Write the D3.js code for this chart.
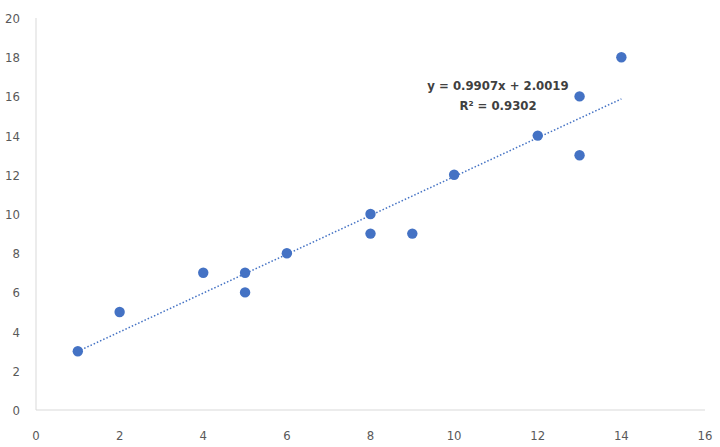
<!DOCTYPE html>
<html><head><meta charset="utf-8">
<script src="https://cdn.jsdelivr.net/npm/d3@7"></script>
<style>body{margin:0;background:#fff}svg{display:block}text{font-family:"Liberation Sans Narrow","DejaVu Sans Condensed",sans-serif}</style>
</head><body><svg id="c" width="720" height="447"></svg>
<script>
const xs = [1,2,4,5,5,6,8,8,9,10,12,13,13,14];
const ys = [3,5,7,7,6,8,10,9,9,12,14,16,13,18];
const xTicks = [0,2,4,6,8,10,12,14,16];
const yTicks = [0,2,4,6,8,10,12,14,16,18,20];
const slope = 0.9907, intercept = 2.0019;
const eqLabel = "y = 0.9907x + 2.0019";
const r2Label = "R² = 0.9302";

const svg = d3.select("#c");
const x = d3.scaleLinear().domain([0,16]).range([36,705]);
const y = d3.scaleLinear().domain([0,20]).range([410,18]);

svg.append("line").attr("x1",x(0)).attr("x2",x(0)).attr("y1",y(20)).attr("y2",y(0)).attr("stroke","#d9d9d9");
svg.append("line").attr("x1",x(0)).attr("x2",x(16)).attr("y1",y(0)).attr("y2",y(0)).attr("stroke","#d9d9d9");
svg.selectAll(".xt").data(xTicks).join("text").attr("x",d=>x(d)).attr("y",440)
  .attr("text-anchor","middle").attr("font-size",13).attr("fill","#595959").text(d=>d);
svg.selectAll(".yt").data(yTicks).join("text").attr("x",20).attr("y",d=>y(d)+5)
  .attr("text-anchor","end").attr("font-size",13).attr("fill","#595959").text(d=>d);

const x0 = d3.min(xs), x1 = d3.max(xs);
svg.append("line").attr("x1",x(x0)).attr("y1",y(slope*x0+intercept))
  .attr("x2",x(x1)).attr("y2",y(slope*x1+intercept))
  .attr("stroke","#4472c4").attr("stroke-width",1.5).attr("stroke-dasharray","1.5,2");

svg.selectAll("circle").data(xs).join("circle")
  .attr("cx",d=>x(d)).attr("cy",(d,i)=>y(ys[i])).attr("r",5.2).attr("fill","#4472c4");

svg.append("text").attr("x",498).attr("y",90).attr("text-anchor","middle")
  .attr("font-size",13).attr("font-weight","bold").attr("fill","#404040").text(eqLabel);
svg.append("text").attr("x",498).attr("y",110).attr("text-anchor","middle")
  .attr("font-size",13).attr("font-weight","bold").attr("fill","#404040").text(r2Label);
</script></body></html>
